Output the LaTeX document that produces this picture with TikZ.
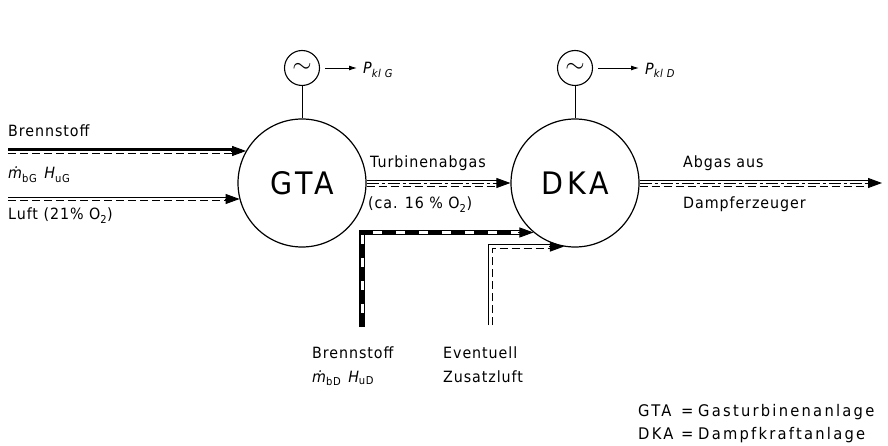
\documentclass[tikz,border=0pt]{standalone}
\usepackage{fontspec}
\setmainfont{DejaVu Sans}[LetterSpace=6, FakeStretch=0.92]
\usetikzlibrary{arrows.meta,calc}
\begin{document}
\begin{tikzpicture}[x=1pt,y=-1pt,
  lbl/.style={font=\fontsize{15.5}{17}\selectfont, inner sep=0pt, anchor=base west},
  leg/.style={font=\fontsize{16}{18}\selectfont\addfontfeatures{LetterSpace=14}, inner sep=0pt, anchor=base west},
  big/.style={font=\fontsize{31}{33}\selectfont\addfontfeatures{LetterSpace=12}},
  plant/.style={circle, draw, line width=1.2pt, minimum size=128pt, inner sep=0pt},
  gen/.style={circle, draw, line width=1.1pt, minimum size=35pt, inner sep=0pt},
  thinl/.style={line width=0.9pt},
  thickl/.style={line width=2.4pt},
  dashdotl/.style={line width=0.9pt, dash pattern=on 12pt off 3pt on 3pt off 3pt},
  dashedl/.style={line width=0.9pt, dash pattern=on 8pt off 4pt},
  tip/.style={-{Triangle[length=14pt,width=10pt]}, line width=0.9pt},
  small/.style={-{Latex[length=8pt,width=5pt]}, line width=0.9pt},
]
\useasboundingbox (0,0) rectangle (888,446);

% plants and generators
\node[plant, big] (gta) at (302,183) {GTA};
\node[plant, big] (dka) at (575,183) {DKA};
\node[gen] (g1) at (302,68) {\fontsize{24}{24}\selectfont$\sim$};
\node[gen] (g2) at (575,68) {\fontsize{24}{24}\selectfont$\sim$};
\node[lbl, anchor=west] (p1) at (363,70) {\itshape P\textsubscript{kl G}};
\node[lbl, anchor=west] (p2) at (645,70) {\itshape P\textsubscript{kl D}};

\draw[thinl] (g1.south) -- (gta.north);
\draw[thinl] (g2.south) -- (dka.north);
\draw[small, shorten <=5pt, shorten >=6pt] (g1.east) -- (g1.east -| p1.west);
\draw[small, shorten <=5pt, shorten >=6pt] (g2.east) -- (g2.east -| p2.west);

% labels
\node[lbl] (lbr) at (8,137) {Brennstoff};
\node[lbl] (lmg) at (8,179) {{\itshape ṁ}\textsubscript{bG}\hspace{7pt}{\itshape H}\textsubscript{uG}};
\node[lbl] (llu) at (8,220) {Luft (21\% O\textsubscript{2})};
\node[lbl] (lta) at (370,168) {Turbinenabgas};
\node[lbl] (lca) at (368,209) {(ca. 16 \% O\textsubscript{2})};
\node[lbl] (lab) at (683,168) {Abgas aus};
\node[lbl] (ldz) at (683,209) {Dampferzeuger};
\node[lbl] (lbd) at (312,358) {Brennstoff};
\node[lbl] (lmd) at (312,382) {{\itshape ṁ}\textsubscript{bD}\hspace{7pt}{\itshape H}\textsubscript{uD}};
\node[lbl] (lev) at (443,358) {Eventuell};
\node[lbl] (lzu) at (443,382) {Zusatzluft};
\node[leg] (k1) at (638,416) {GTA};
\node[leg] (e1) at (681,416) {=};
\node[leg] (t1) at (698,416) {Gasturbinenanlage};
\node[leg] (k2) at (638,439) {DKA};
\node[leg] (e2) at (681,439) {=};
\node[leg] (t2) at (698,439) {Dampfkraftanlage};

% fuel to GTA
\coordinate (fs) at (8,151);
\coordinate (fe) at (fs -| gta.150);
\draw[thickl, shorten >=13pt] ([yshift=1.5pt]fs) -- ([yshift=1.5pt]fe);
\draw[dashedl, shorten >=13pt] ([yshift=-2.2pt]fs) -- ([yshift=-2.2pt]fe);
\draw[tip] ($(fe)+(-15,0)$) -- (fe);

% air to GTA
\coordinate (ls) at (8,199);
\coordinate (le) at (ls -| gta.195);
\draw[thinl, shorten >=13pt] ([yshift=1.7pt]ls) -- ([yshift=1.7pt]le);
\draw[dashedl, shorten >=13pt] ([yshift=-1.7pt]ls) -- ([yshift=-1.7pt]le);
\draw[tip] ($(le)+(-15,0)$) -- (le);

% turbine exhaust
\coordinate (ts) at (gta.east);
\coordinate (te) at (ts -| dka.west);
\draw[thinl, shorten >=13pt] ([yshift=3pt]ts) -- ([yshift=3pt]te);
\draw[dashdotl, shorten >=13pt] (ts) -- (te);
\draw[dashedl, shorten >=13pt] ([yshift=-3pt]ts) -- ([yshift=-3pt]te);
\draw[tip] ($(te)+(-15,0)$) -- (te);

% exhaust from steam generator
\coordinate (os) at (dka.east);
\coordinate (oe) at (882,183);
\draw[thinl, shorten >=13pt] ([yshift=3pt]os) -- ([yshift=3pt]oe);
\draw[dashdotl, shorten >=13pt] (os) -- (oe);
\draw[dashedl, shorten >=13pt] ([yshift=-3pt]os) -- ([yshift=-3pt]oe);
\draw[tip] ($(oe)+(-15,0)$) -- (oe);

% fuel to DKA
\coordinate (bs) at (362,327);
\coordinate (be) at (dka.230);
\draw[line width=5.5pt, shorten >=13pt] (bs) |- (be);
\draw[line width=3pt, white, shorten >=13pt] (bs) |- (be);
\draw[line width=3pt, dash pattern=on 14pt off 9pt, shorten >=13pt] (bs) |- (be);
\draw[tip] ($(be)+(-15,0)$) -- (be);

% additional air to DKA
\coordinate (zs) at (490,325);
\coordinate (ze) at (dka.260);
\draw[thinl, shorten >=13pt] ([xshift=-2pt]zs) |- ([yshift=2pt]ze);
\draw[dashedl, shorten >=13pt] ([xshift=2pt]zs) |- ([yshift=-2pt]ze);
\draw[tip] ($(ze)+(-15,0)$) -- (ze);
\end{tikzpicture}
\end{document}
